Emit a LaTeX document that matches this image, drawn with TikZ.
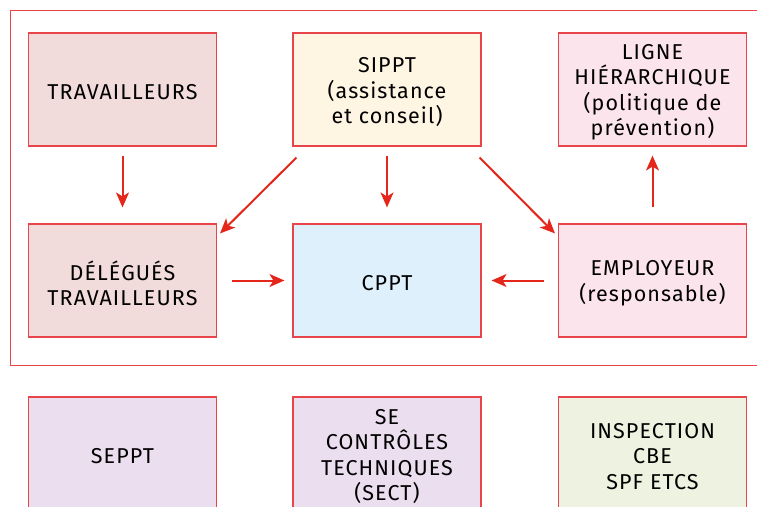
\documentclass[tikz,border=0pt]{standalone}
\usepackage{fontspec}
\setmainfont{Fira Sans}[LetterSpace=5]
\usetikzlibrary{arrows.meta,calc}
\definecolor{bordr}{HTML}{E8454B}
\definecolor{arr}{HTML}{E4261B}
\definecolor{fTrav}{HTML}{F2DCDB}
\definecolor{fSip}{HTML}{FEF5E3}
\definecolor{fPink}{HTML}{FCE4EC}
\definecolor{fBlue}{HTML}{DEF0FC}
\definecolor{fLil}{HTML}{EBDEEF}
\definecolor{fGrn}{HTML}{EEF3E1}
\tikzset{
  box/.style={draw=bordr, line width=1.1pt, minimum width=188pt, minimum height=113pt, inner sep=0pt},
  txt/.style={align=center, inner sep=0pt, font=\fontsize{21.5}{25.5}\selectfont},
  flow/.style={draw=arr, line width=2pt, -{Stealth[length=15pt,width=13pt,inset=4pt]}}
}
\newcommand{\mybx}[5]{%
  \node[box, fill=#4] (#1) at (#2,#3) {};
  \node[txt] (#1-t) at ($(#1.center)+(0,3)$) {#5};}
\begin{document}
\begin{tikzpicture}[x=1pt,y=-1pt]
\useasboundingbox (0,0) rectangle (757,506);
\begin{scope}
\clip (0,0) rectangle (757,506);
\draw[draw=bordr, line width=1pt] (10,10) rectangle (800,365);
\mybx{trav}{122.5}{89.5}{fTrav}{TRAVAILLEURS}
\mybx{sippt}{387}{89.5}{fSip}{SIPPT\\(assistance\\et conseil)}
\mybx{ligne}{652.5}{89.5}{fPink}{LIGNE\\HIÉRARCHIQUE\\(politique de\\prévention)}
\mybx{del}{122.5}{280.5}{fTrav}{DÉLÉGUÉS\\TRAVAILLEURS}
\mybx{cppt}{387}{280.5}{fBlue}{CPPT}
\mybx{emp}{652.5}{280.5}{fPink}{EMPLOYEUR\\(responsable)}
\mybx{seppt}{122.5}{453.5}{fLil}{SEPPT}
\mybx{sect}{387}{453.5}{fLil}{SE\\CONTRÔLES\\TECHNIQUES\\(SECT)}
\mybx{insp}{652.5}{453.5}{fGrn}{INSPECTION\\CBE\\SPF ETCS}
\end{scope}
\draw[flow, shorten <=9pt, shorten >=16pt] (trav) -- (del);
\draw[flow, shorten <=9pt, shorten >=16pt] (sippt) -- (cppt);
\draw[flow, shorten <=16pt, shorten >=9pt] (emp) -- (ligne);
\draw[flow, shorten <=15pt, shorten >=8pt] (del) -- (cppt);
\draw[flow, shorten <=14pt, shorten >=10pt] (emp) -- (cppt);
\draw[flow] ($(sippt.south west)+(4,11)$) -- ($(del.north east)+(3,10)$);
\draw[flow] ($(sippt.south east)+(-2,11)$) -- ($(emp.north west)+(-3,10)$);
\end{tikzpicture}
\end{document}
